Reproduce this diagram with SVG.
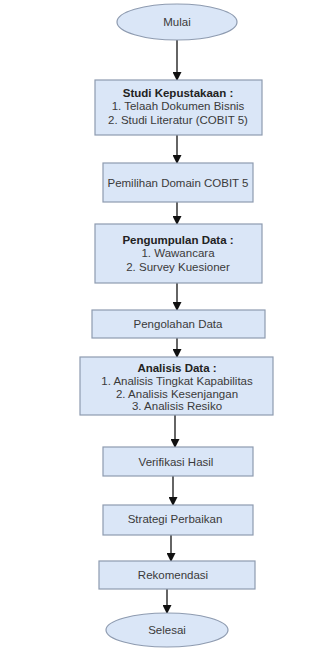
<svg xmlns="http://www.w3.org/2000/svg" width="334" height="648" viewBox="0 0 334 648">
<style>
.n{fill:#dae6f7;stroke:#8e9bb0;stroke-width:1.2}
.t{font-family:"Liberation Sans",Arial,sans-serif;font-size:11.5px;fill:#3a3a3a;text-anchor:middle}
.b{font-weight:bold;fill:#222}
.c{stroke:#111;stroke-width:1.3;fill:none}
</style>
<defs>
<marker id="ah" markerWidth="9" markerHeight="9" refX="8" refY="4.5" orient="auto" markerUnits="userSpaceOnUse">
<path d="M0,0 L9,4.5 L0,9 Z" fill="#111"/>
</marker>
</defs>
<rect width="334" height="648" fill="#fff"/>
<g id="connectors">
<line class="c" x1="177" y1="40" x2="177" y2="80" marker-end="url(#ah)"/>
<line class="c" x1="177" y1="135" x2="177" y2="163" marker-end="url(#ah)"/>
<line class="c" x1="177" y1="202" x2="177" y2="224" marker-end="url(#ah)"/>
<line class="c" x1="177" y1="283" x2="177" y2="310" marker-end="url(#ah)"/>
<line class="c" x1="177" y1="338" x2="177" y2="357" marker-end="url(#ah)"/>
<line class="c" x1="175" y1="415" x2="175" y2="447" marker-end="url(#ah)"/>
<line class="c" x1="173" y1="476" x2="173" y2="505" marker-end="url(#ah)"/>
<line class="c" x1="171" y1="535" x2="171" y2="561" marker-end="url(#ah)"/>
<line class="c" x1="167" y1="589" x2="167" y2="613" marker-end="url(#ah)"/>
</g>
<g id="mulai">
<ellipse class="n" cx="177" cy="22" rx="60" ry="18"/>
<text class="t" x="177" y="26">Mulai</text>
</g>
<g id="studi">
<rect class="n" x="95" y="80" width="167" height="55"/>
<text class="t b" x="178" y="97">Studi Kepustakaan :</text>
<text class="t" x="178" y="110">1. Telaah Dokumen Bisnis</text>
<text class="t" x="178" y="124">2. Studi Literatur (COBIT 5)</text>
</g>
<g id="pemilihan">
<rect class="n" x="103" y="163" width="150" height="39"/>
<text class="t" x="178" y="187">Pemilihan Domain COBIT 5</text>
</g>
<g id="pengumpulan">
<rect class="n" x="95" y="224" width="167" height="59"/>
<text class="t b" x="178" y="244">Pengumpulan Data :</text>
<text class="t" x="178" y="257">1. Wawancara</text>
<text class="t" x="178" y="271">2. Survey Kuesioner</text>
</g>
<g id="pengolahan">
<rect class="n" x="92" y="310" width="173" height="28"/>
<text class="t" x="178" y="328">Pengolahan Data</text>
</g>
<g id="analisis">
<rect class="n" x="80" y="357" width="193" height="58"/>
<text class="t b" x="177" y="372">Analisis Data :</text>
<text class="t" x="177" y="385">1. Analisis Tingkat Kapabilitas</text>
<text class="t" x="177" y="398">2. Analisis Kesenjangan</text>
<text class="t" x="177" y="410">3. Analisis Resiko</text>
</g>
<g id="verifikasi">
<rect class="n" x="103" y="447" width="150" height="29"/>
<text class="t" x="176" y="466">Verifikasi Hasil</text>
</g>
<g id="strategi">
<rect class="n" x="103" y="505" width="150" height="30"/>
<text class="t" x="175" y="523">Strategi Perbaikan</text>
</g>
<g id="rekomendasi">
<rect class="n" x="99" y="561" width="156" height="28"/>
<text class="t" x="173" y="579">Rekomendasi</text>
</g>
<g id="selesai">
<ellipse class="n" cx="167" cy="630" rx="61" ry="17"/>
<text class="t" x="167" y="634">Selesai</text>
</g>
</svg>
